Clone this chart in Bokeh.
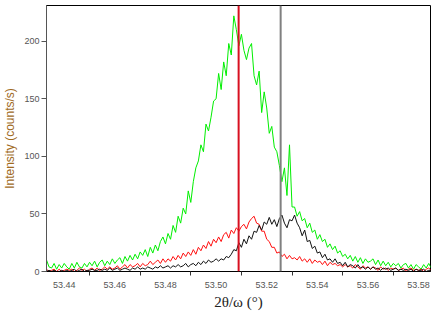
import numpy as np
from bokeh.plotting import figure
from bokeh.models import Range1d, FixedTicker, Span, NumeralTickFormatter
from bokeh.embed import file_html
from bokeh.resources import INLINE

# scan grid (2theta/omega, degrees)
scan_start = 53.433
scan_step = 0.001

green_counts = [
    10, 4, 3, 7, 2, 6, 3, 7,
    4, 2, 7, 3, 8, 4, 3, 7, 4, 8,
    5, 9, 4, 8, 10, 5, 9, 6, 11, 7,
    10, 12, 7, 13, 9, 14, 10, 15, 11, 17,
    14, 19, 13, 21, 16, 23, 18, 26, 30, 24,
    33, 28, 40, 34, 48, 42, 55, 50, 70, 60,
    78, 90, 96, 110, 104, 128, 122, 134, 148, 150,
    172, 158, 182, 170, 198, 188, 222, 210, 196, 206,
    192, 184, 194, 198, 170, 162, 174, 138, 156, 142,
    120, 126, 108, 104, 92, 78, 90, 66, 110, 56,
    56, 48, 52, 44, 46, 38, 42, 34, 36, 28,
    32, 26, 28, 21, 24, 19, 22, 16, 18, 13,
    15, 11, 14, 9, 13, 8, 12, 7, 11, 8,
    9, 11, 6, 10, 5, 9, 5, 8, 4, 7,
    5, 7, 3, 6, 7, 3, 6, 2, 6, 4,
    2, 6, 3, 7, 3,
]

red_counts = [
    2, 0, 1, 2, 0, 2, 0, 1,
    2, 1, 2, 0, 1, 3, 1, 2, 0, 2,
    3, 1, 3, 1, 2, 4, 2, 4, 2, 3,
    5, 2, 4, 6, 3, 6, 4, 5, 7, 4,
    7, 5, 6, 9, 6, 8, 10, 7, 11, 8,
    11, 9, 13, 10, 14, 11, 16, 13, 17, 14,
    19, 15, 21, 18, 23, 20, 26, 22, 28, 25,
    30, 26, 32, 34, 29, 36, 33, 38, 35, 39,
    41, 37, 43, 46, 48, 42, 41, 35, 35, 28,
    26, 21, 21, 16, 17, 13, 15, 11, 14, 11,
    12, 10, 13, 9, 11, 8, 11, 7, 10, 8,
    9, 6, 9, 5, 8, 6, 7, 5, 6, 4,
    6, 4, 5, 3, 6, 4, 2, 5, 3, 4,
    2, 4, 3, 1, 4, 2, 3, 1, 3, 2,
    3, 1, 2, 3, 0, 2, 3, 1, 2, 1,
    2, 0, 2, 3, 1,
]

black_counts = [
    0, 1, 0, 1, 0, 0, 1, 0,
    1, 0, 1, 2, 0, 1, 2, 0, 1, 1,
    2, 1, 1, 2, 1, 2, 1, 3, 1, 2,
    3, 1, 2, 3, 2, 1, 3, 2, 4, 2,
    3, 2, 4, 3, 2, 4, 3, 5, 3, 4,
    5, 3, 5, 4, 6, 4, 5, 7, 4, 6,
    7, 5, 8, 6, 9, 7, 10, 8, 9, 11,
    9, 11, 10, 13, 12, 15, 19, 18, 25, 21,
    28, 24, 31, 28, 35, 34, 40, 36, 43, 41,
    47, 41, 45, 39, 46, 49, 42, 38, 45, 44,
    49, 42, 38, 31, 36, 26, 27, 20, 22, 16,
    17, 12, 15, 10, 11, 8, 11, 7, 8, 5,
    8, 4, 6, 5, 3, 6, 3, 4, 2, 4,
    2, 4, 2, 3, 1, 3, 2, 3, 1, 2,
    3, 1, 2, 1, 2, 1, 2, 0, 2, 1,
    1, 2, 0, 1, 1,
]

red_peak_position = 53.5089
black_peak_position = 53.5255

x_label_ticks = [53.44, 53.46, 53.48, 53.50, 53.52, 53.54, 53.56, 53.58]
x_minor_ticks = [53.45, 53.47, 53.49, 53.51, 53.53, 53.55, 53.57]
y_ticks = [0, 50, 100, 150, 200]

x = scan_start + scan_step * np.arange(len(green_counts))

p = figure(width=436, height=312, output_backend="svg", toolbar_location=None,
           x_range=Range1d(53.4330, 53.5847), y_range=Range1d(0, 231.0),
           min_border_left=44, min_border_right=6, min_border_top=5, min_border_bottom=40)
p.background_fill_color = "white"
p.border_fill_color = "white"
p.grid.visible = False
p.outline_line_color = "black"
p.outline_line_width = 1

p.line(x, green_counts, line_color="#00EE00", line_width=1)
p.line(x, red_counts, line_color="#FF1010", line_width=1)
p.line(x, black_counts, line_color="#111111", line_width=1)

p.add_layout(Span(location=red_peak_position, dimension="height", line_color="#D81020", line_width=2))
p.add_layout(Span(location=black_peak_position, dimension="height", line_color="#808080", line_width=2))

xa = p.xaxis[0]
xa.ticker = FixedTicker(ticks=x_label_ticks, minor_ticks=x_minor_ticks)
xa.formatter = NumeralTickFormatter(format="0.00")
xa.major_tick_out = 0
xa.major_tick_in = 0
xa.minor_tick_out = 4
xa.minor_tick_in = 0
xa.minor_tick_line_color = "#333333"
xa.axis_line_color = "black"
xa.major_label_text_font = "Liberation Sans"
xa.major_label_text_font_size = "9px"
xa.major_label_text_color = "#555555"
xa.major_label_standoff = 6
xa.axis_label = "2θ/ω (°)"
xa.axis_label_text_font = "Liberation Serif"
xa.axis_label_text_font_style = "normal"
xa.axis_label_text_font_size = "15px"
xa.axis_label_text_color = "#222222"
xa.axis_label_standoff = 3

ya = p.yaxis[0]
ya.ticker = FixedTicker(ticks=y_ticks, minor_ticks=[])
ya.major_tick_out = 5
ya.major_tick_in = 0
ya.major_tick_line_color = "#555555"
ya.axis_line_color = "#555555"
ya.major_label_text_font = "Liberation Sans"
ya.major_label_text_font_size = "9px"
ya.major_label_text_color = "#555555"
ya.major_label_standoff = 2
ya.axis_label = "Intensity (counts/s)"
ya.axis_label_text_font = "Liberation Sans"
ya.axis_label_text_font_style = "normal"
ya.axis_label_text_font_size = "12px"
ya.axis_label_text_color = "#A06A1E"
ya.axis_label_standoff = 4

open("out.html", "w").write(file_html(p, INLINE))
